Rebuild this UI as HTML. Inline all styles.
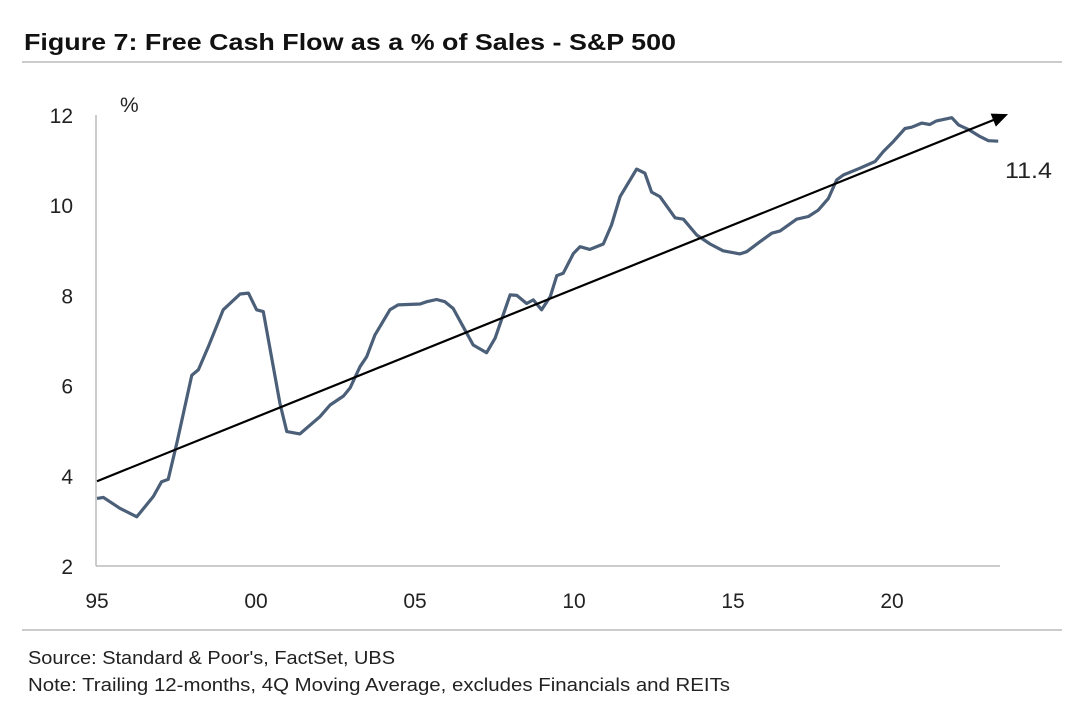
<!DOCTYPE html>
<html><head><meta charset="utf-8"><style>
body{margin:0;background:#fff;}
svg{display:block;font-family:"Liberation Sans",sans-serif;}
</style></head><body>
<svg id="chart" width="1080" height="712" viewBox="0 0 1080 712" xmlns="http://www.w3.org/2000/svg">
<rect width="1080" height="712" fill="#fff"/>
<text x="24" y="50" font-size="23" font-weight="bold" fill="#111" textLength="652" lengthAdjust="spacingAndGlyphs">Figure 7: Free Cash Flow as a % of Sales - S&amp;P 500</text>
<line x1="22" y1="62" x2="1062" y2="62" stroke="#ccc" stroke-width="2"/>
<line x1="96" y1="115" x2="96" y2="566" stroke="#bbb" stroke-width="1.5"/>
<line x1="96" y1="566" x2="1000" y2="566" stroke="#bbb" stroke-width="1.5"/>
<text x="120" y="112" font-size="21" fill="#222">%</text>
<g id="yticks"></g><g id="xticks"></g>
<g id="series"></g>
<text x="1005" y="178" font-size="22" fill="#222" textLength="47" lengthAdjust="spacingAndGlyphs">11.4</text>
<line x1="22" y1="630" x2="1062" y2="630" stroke="#ccc" stroke-width="2"/>
<text x="28" y="664" font-size="18" fill="#222" textLength="367" lengthAdjust="spacingAndGlyphs">Source: Standard &amp; Poor's, FactSet, UBS</text>
<text x="28" y="691" font-size="18" fill="#222" textLength="702" lengthAdjust="spacingAndGlyphs">Note: Trailing 12-months, 4Q Moving Average, excludes Financials and REITs</text>
</svg>
<script>
const years=[1995.0,1995.2,1995.72,1996.25,1996.77,1997.03,1997.24,1997.51,1997.98,1998.19,1998.5,1998.97,1999.5,1999.76,2000.02,2000.23,2000.75,2000.97,2001.38,2002.01,2002.33,2002.75,2002.96,2003.27,2003.48,2003.74,2004.21,2004.47,2005.16,2005.37,2005.68,2005.94,2006.2,2006.63,2006.83,2007.25,2007.52,2007.99,2008.2,2008.51,2008.72,2008.98,2009.25,2009.46,2009.66,2009.98,2010.19,2010.5,2010.92,2011.18,2011.45,2011.97,2012.23,2012.44,2012.7,2013.18,2013.44,2013.86,2014.28,2014.69,2015.22,2015.43,2015.85,2016.22,2016.48,2017.0,2017.37,2017.68,2018.0,2018.26,2018.47,2018.99,2019.47,2019.73,2020.04,2020.41,2020.62,2020.93,2021.19,2021.4,2021.88,2022.09,2022.4,2022.77,2023.03,2023.34];
const fcfValues=[3.5,3.52,3.28,3.09,3.54,3.87,3.92,4.72,6.23,6.35,6.86,7.68,8.03,8.05,7.68,7.64,5.61,4.98,4.93,5.31,5.57,5.77,5.95,6.42,6.64,7.12,7.68,7.79,7.81,7.86,7.91,7.86,7.71,7.16,6.9,6.73,7.05,8.01,8.0,7.82,7.9,7.68,7.97,8.44,8.49,8.93,9.08,9.02,9.14,9.56,10.19,10.8,10.71,10.29,10.19,9.72,9.69,9.34,9.14,8.99,8.92,8.97,9.19,9.38,9.43,9.69,9.75,9.89,10.15,10.56,10.67,10.82,10.97,11.19,11.41,11.7,11.73,11.82,11.79,11.87,11.94,11.78,11.68,11.52,11.43,11.42];
const trendYears=[1995.0,2023.65];
const trendValues=[3.88,12.02];
const yTicks=[2,4,6,8,10,12];
const xTickYears=[1995,2000,2005,2010,2015,2020];
const xTickLabels=["95","00","05","10","15","20"];
const NS="http://www.w3.org/2000/svg";
const xs=y=>97+(y-1995)*31.8;
const ys=v=>566-(v-2)*45.1;
const yt=document.getElementById('yticks');
yTicks.forEach(t=>{const e=document.createElementNS(NS,'text');


e.setAttribute('x',73);e.setAttribute('y',ys(t)+8);e.setAttribute('text-anchor','end');e.setAttribute('font-size','21');e.setAttribute('fill','#222');e.textContent=t;yt.appendChild(e);});
const xt=document.getElementById('xticks');
xTickYears.forEach((t,i)=>{const e=document.createElementNS(NS,'text');


e.setAttribute('x',xs(t));e.setAttribute('y',608);e.setAttribute('text-anchor','middle');e.setAttribute('font-size','21');e.setAttribute('fill','#222');e.textContent=xTickLabels[i];xt.appendChild(e);});
const g=document.getElementById('series');
const p=document.createElementNS(NS,'polyline');


p.setAttribute('points',years.map((y,i)=>xs(y).toFixed(1)+','+ys(fcfValues[i]).toFixed(1)).join(' '));
p.setAttribute('fill','none');p.setAttribute('stroke','#4b5f78');p.setAttribute('stroke-width','3.2');p.setAttribute('stroke-linejoin','round');
g.appendChild(p);
const x1=xs(trendYears[0]),y1=ys(trendValues[0]),x2=xs(trendYears[1]),y2=ys(trendValues[1]);
const ang=Math.atan2(y2-y1,x2-x1);
const L=document.createElementNS(NS,'line');


L.setAttribute('x1',x1);L.setAttribute('y1',y1);L.setAttribute('x2',x2-12*Math.cos(ang));L.setAttribute('y2',y2-12*Math.sin(ang));
L.setAttribute('stroke','#000');L.setAttribute('stroke-width','2.2');g.appendChild(L);
const a=document.createElementNS(NS,'polygon');


const bx=x2-16*Math.cos(ang),by=y2-16*Math.sin(ang),nx=-Math.sin(ang)*7,ny=Math.cos(ang)*7;
a.setAttribute('points',`${x2},${y2} ${bx+nx},${by+ny} ${bx-nx},${by-ny}`);a.setAttribute('fill','#000');g.appendChild(a);
</script>
</body></html>
